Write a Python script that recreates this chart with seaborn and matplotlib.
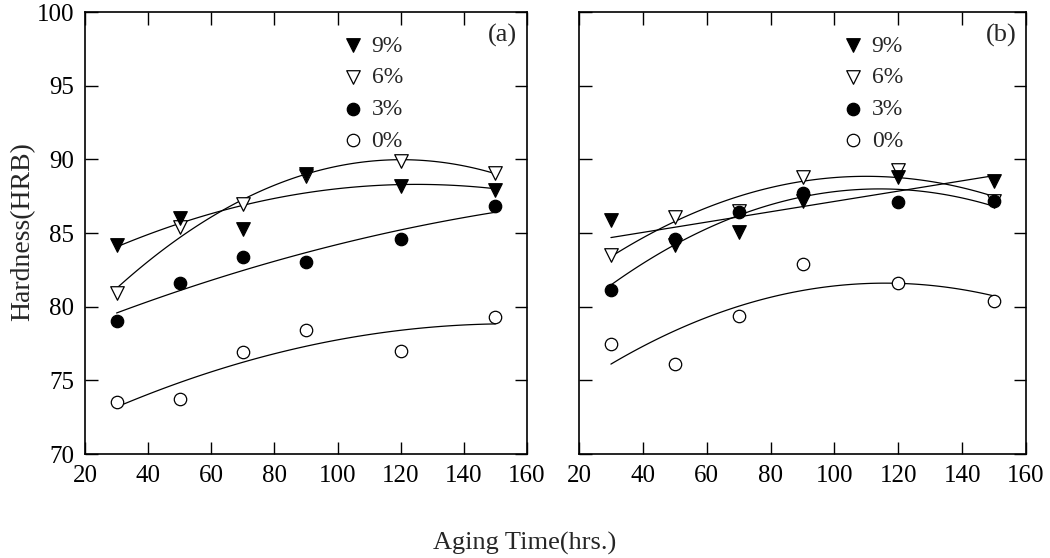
import matplotlib
matplotlib.use("Agg")
import numpy as np
import pandas as pd
import matplotlib.pyplot as plt
import seaborn as sns

sns.set_theme(style="ticks")
plt.rcParams['font.family'] = ['Liberation Serif', 'DejaVu Serif']

# aging time (hrs.) and hardness (HRB)
hours = [30, 50, 70, 90, 120, 150]
labels = ['9%', '6%', '3%', '0%']

a_9 = [84.2, 86.0, 85.3, 89.0, 88.2, 87.9]
a_6 = [80.9, 85.4, 87.0, 88.9, 89.9, 89.1]
a_3 = [79.0, 81.6, 83.4, 83.0, 84.6, 86.8]
a_0 = [73.5, 73.7, 76.9, 78.4, 77.0, 79.3]

b_9 = [85.9, 84.2, 85.1, 87.2, 88.8, 88.5]
b_6 = [83.5, 86.1, 86.5, 88.8, 89.3, 87.2]
b_3 = [81.1, 84.6, 86.4, 87.7, 87.1, 87.2]
b_0 = [77.5, 76.1, 79.4, 82.9, 81.6, 80.4]

xticks = [20, 40, 60, 80, 100, 120, 140, 160]
yticks = [70, 75, 80, 85, 90, 95, 100]

# marker, face colour, drawing order
styles = {'9%': ('v', 'black', 8), '6%': ('v', 'white', 6),
          '3%': ('o', 'black', 7), '0%': ('o', 'white', 5)}

fig = plt.figure(figsize=(10.5, 5.58), dpi=100)
ax1 = fig.add_axes([85 / 1050, 1 - 454 / 558, 442 / 1050, 442 / 558])
ax2 = fig.add_axes([579 / 1050, 1 - 454 / 558, 447 / 1050, 442 / 558])

panels = [
    (ax1, [a_9, a_6, a_3, a_0], [2, 2, 2, 2], '(a)', 0.579),
    (ax2, [b_9, b_6, b_3, b_0], [1, 2, 2, 2], '(b)', 0.586),
]

for ax, series, orders, tag, legx in panels:
    for lab, vals, order in zip(labels, series, orders):
        df = pd.DataFrame({'hours': hours, 'hrb': vals})
        sns.regplot(data=df, x='hours', y='hrb', order=order, ci=None,
                    scatter=False, truncate=True, ax=ax,
                    line_kws=dict(color='black', lw=0.9))
        m, fc, z = styles[lab]
        ax.scatter(df['hours'], df['hrb'], marker=m, s=95 if m == 'v' else 80,
                   facecolors=fc, edgecolors='black', linewidths=0.9,
                   zorder=z, label=lab)

    ax.set_xlim(20, 160)
    ax.set_ylim(70, 100)
    ax.set_xticks(xticks)
    ax.set_yticks(yticks)
    ax.set_xlabel('')
    ax.set_ylabel('')
    ax.tick_params(direction='in', length=9, width=1, top=True, right=True,
                   labelsize=18, colors='black', pad=8)
    for sp in ax.spines.values():
        sp.set_visible(True)
        sp.set_color('black')
        sp.set_linewidth(1.2)
    ax.text(0.978, 0.948, tag, transform=ax.transAxes, ha='right',
            va='center', fontsize=19)
    ax.legend(loc='upper left', bbox_to_anchor=(legx, 0.948), frameon=False,
              fontsize=17, handlelength=1.0, handletextpad=0.3,
              labelspacing=0.43, borderpad=0, borderaxespad=0,
              scatterpoints=1)

ax2.tick_params(labelleft=False)

fig.text(0.5, 1 - 543 / 558, 'Aging Time(hrs.)', ha='center', va='center',
         fontsize=19)
fig.text(23 / 1050, 1 - 232 / 558, 'Hardness(HRB)', ha='center', va='center',
         rotation=90, fontsize=20)

fig.savefig('out.png', dpi=100, facecolor='white')
